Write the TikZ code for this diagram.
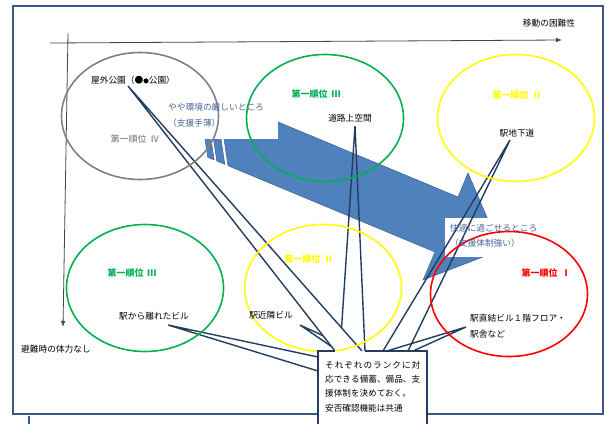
\documentclass[tikz,border=0pt]{standalone}
\usepackage{fontspec}
\setmainfont{Noto Sans CJK JP}
\usetikzlibrary{arrows.meta,shapes.geometric}
\definecolor{frameblue}{RGB}{58,90,133}
\definecolor{calloutblue}{RGB}{36,60,96}
\definecolor{arrowblue}{RGB}{79,129,189}
\definecolor{arrowedge}{RGB}{60,96,140}
\definecolor{labelblue}{RGB}{70,100,150}
\definecolor{okgreen}{RGB}{0,176,80}
\definecolor{okyellow}{RGB}{255,255,0}
\definecolor{okred}{RGB}{255,0,0}
\definecolor{rankgray}{RGB}{110,110,110}
\definecolor{zonegray}{RGB}{128,128,128}
\definecolor{axisgray}{RGB}{70,70,70}
\begin{document}
\begin{tikzpicture}[x=1pt,y=-1pt,
  txt/.style={inner sep=0pt, font=\fontsize{8.7}{10}\selectfont},
  notetxt/.style={inner sep=0pt, anchor=west, font=\fontsize{8.6}{10}\selectfont},
  rank/.style={inner sep=0pt, font=\fontsize{9}{10}\selectfont\bfseries},
  zone/.style={ellipse, draw, line width=1.6pt, minimum width=157pt, minimum height=127pt, inner sep=0pt},
  wedge/.style={draw=calloutblue, line width=1.4pt, line join=miter},
  axisline/.style={draw=axisgray, line width=0.8pt, -{Latex[length=6pt,width=4.5pt]}},
  stripe/.style={fill=arrowblue, draw=arrowedge, line width=0.5pt}]
\useasboundingbox (0,0) rectangle (605,423);
\fill[white] (0,0) rectangle (605,423);
% outer frame
\draw[frameblue, line width=1.5pt] (13,6) rectangle (603,414);
\draw[frameblue, line width=1.5pt] (29,416) -- (29,426);
% axes
\coordinate (hx0) at (50,43);
\coordinate (hx1) at (562,40);
\coordinate (vy0) at (68,33);
\coordinate (vy1) at (63,327);
\draw[axisline] (hx0) -- (hx1);
\draw[axisline] (vy0) -- (vy1);
% big striped arrow
\path[stripe] (204.4,135) -- (210.4,135) -- (214.1,159.9) -- (207.7,157.2) -- cycle;
\path[stripe] (212.9,135) -- (220.4,135) -- (224.8,164.3) -- (216.8,161.0) -- cycle;
\path[stripe] (217.7,96.8) -- (458,197) -- (468,173) -- (501,250) -- (423,280) -- (435,252) -- (228,165.7) -- cycle;
% white label boxes
\fill[white] (160,90) rectangle (278,139.4);
\fill[white] (445,218) rectangle (545,257);
% callout wedges
\coordinate (w2a) at (355,126); \coordinate (w2b) at (340,351); \coordinate (w2c) at (365,351);
\coordinate (w3a) at (300,325); \coordinate (w3b) at (338,351); \coordinate (w3c) at (356,351);
\coordinate (w4a) at (168,325); \coordinate (w4b) at (318,357); \coordinate (w4c) at (318,371);
\coordinate (w5a) at (510,140); \coordinate (w5b) at (383,351); \coordinate (w5c) at (408,351);
\coordinate (w6a) at (466,327); \coordinate (w6b) at (387,351); \coordinate (w6c) at (413,351);
\coordinate (w1a) at (128,86);  \coordinate (w1b) at (335,351); \coordinate (w1c) at (362,351);
\draw[wedge] (w2b) -- (w2a) -- (w2c);
\draw[wedge] (w3b) -- (w3a) -- (w3c);
\draw[wedge] (w4b) -- (w4a) -- (w4c);
\draw[wedge] (w5b) -- (w5a) -- (w5c);
\draw[wedge] (w6b) -- (w6a) -- (w6c);
\path[wedge, fill=white] (w1b) -- (w1a) -- (w1c);
% zones
\node[zone, draw=zonegray] (e4) at (140,116) {};
\node[zone, draw=okgreen] (e3a) at (325,118) {};
\node[zone, draw=okyellow] (e2a) at (516,118) {};
\node[zone, draw=okgreen] (e3b) at (145,288) {};
\node[zone, draw=okyellow] (e2b) at (323,288) {};
\node[zone, draw=okred, minimum height=125pt] (e1) at (509,294) {};
% texts
\node[txt] (tmove) at (549,23) {移動の困難性};
\node[txt] (tevac) at (56,349) {避難時の体力なし};
\node[txt] (tpark) at (133,80) {屋外公園（●{\fontsize{5.5}{6}\selectfont ●}公園）};
\node[txt, text=rankgray, font=\fontsize{9}{10}\selectfont] (tr4) at (135,139) {第一順位\hspace{4pt}Ⅳ};
\node[txt, text=labelblue, anchor=west] (tharsh1) at (168,107) {やや環境の厳しいところ};
\node[txt, text=labelblue, anchor=west] (tharsh2) at (168,123) {（支援手薄）};
\node[rank, text=okgreen] (tr3a) at (316,94) {第一順位\hspace{4pt}Ⅲ};
\node[txt] (troad) at (350,118) {道路上空間};
\node[rank, text=okyellow] (tr2a) at (517,95) {第一順位\hspace{4pt}Ⅱ};
\node[txt] (tunder) at (517,133) {駅地下道};
\node[rank, text=okgreen] (tr3b) at (132,273) {第一順位\hspace{4pt}Ⅲ};
\node[txt] (tfar) at (154,316) {駅から離れたビル};
\node[rank, text=okyellow] (tr2b) at (309,259) {第一順位\hspace{4pt}Ⅱ};
\node[txt] (tnear) at (271,315) {駅近隣ビル};
\node[rank, text=okred] (tr1) at (546,273) {第一順位\hspace{4pt}Ⅰ};
\node[txt, anchor=west] (tdirect1) at (470,318) {駅直結ビル１階フロア・};
\node[txt, anchor=west] (tdirect2) at (470,334) {駅舎など};
\node[txt, text=labelblue, anchor=west] (tcomf1) at (450,228) {快適に過ごせるところ};
\node[txt, text=labelblue, anchor=west] (tcomf2) at (450,243) {（支援体制強い）};
% callout box
\fill[white] (318,351) rectangle (427,430);
\draw[calloutblue, line width=1.4pt] (w1b) -- (318,351) -- (318,430);
\draw[calloutblue, line width=1.4pt] (w2c) -- (427,351) -- (427,430);
\node[notetxt] (n1) at (325,365) {\makebox[95pt][s]{そ\hfil れ\hfil ぞ\hfil れ\hfil の\hfil ラ\hfil ン\hfil ク\hfil に\hfil 対}};
\node[notetxt] (n2) at (325,379) {\makebox[95pt][s]{応\hfil で\hfil き\hfil る\hfil 備\hfil 蓄\hfil 、\hfil 備\hfil 品\hfil 、\hfil 支}};
\node[notetxt] (n3) at (325,393) {援体制を決めておく。};
\node[notetxt] (n4) at (325,408) {安否確認機能は共通};
\end{tikzpicture}
\end{document}
